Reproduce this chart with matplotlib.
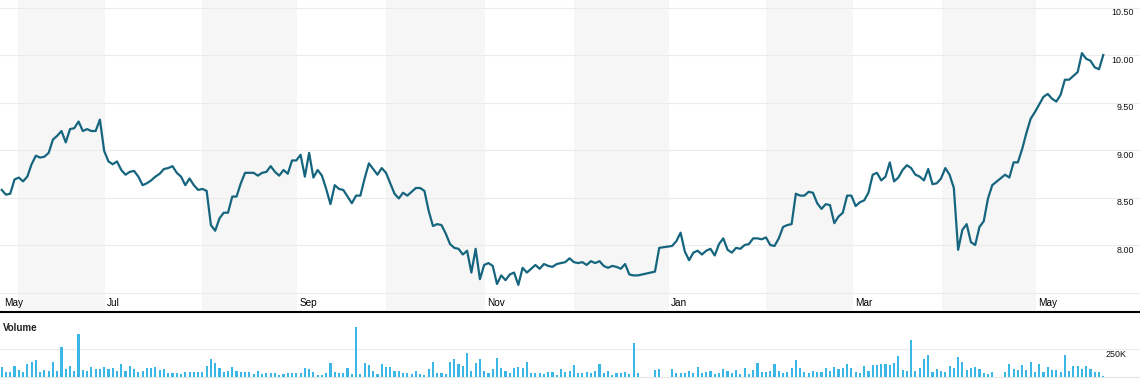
import numpy as np
import matplotlib.pyplot as plt
from matplotlib.lines import Line2D

plt.rcParams['font.family'] = ['Liberation Sans', 'DejaVu Sans']

nan = np.nan

# cours de cloture, un point par jour de bourse (nan = pas de cotation)
prices = [
    8.58, 8.53, 8.54, 8.69, 8.71, 8.67, 8.72, 8.85, 8.94, 8.92,
    8.93, 8.97, 9.11, 9.15, 9.20, 9.08, 9.22, 9.23, 9.30, 9.20,
    9.22, 9.20, 9.20, 9.32, 8.99, 8.88, 8.85, 8.88, 8.79, 8.74,
    8.77, 8.78, 8.72, 8.63, 8.65, 8.68, 8.72, 8.75, 8.80, 8.81,
    8.83, 8.76, 8.72, 8.63, 8.70, 8.63, 8.58, 8.59, 8.57, 8.21,
    8.15, 8.28, 8.34, 8.34, 8.51, 8.51, 8.65, 8.76, 8.76, 8.76,
    8.73, 8.76, 8.77, 8.83, 8.77, 8.73, 8.79, 8.75, 8.89, 8.89,
    8.95, 8.72, 8.97, 8.71, 8.79, 8.73, 8.59, 8.43, 8.63, 8.59,
    8.58, 8.51, 8.44, 8.52, 8.52, 8.70, 8.86, 8.80, 8.74, 8.81,
    8.76, 8.65, 8.54, 8.49, 8.55, 8.52, 8.56, 8.60, 8.60, 8.57,
    8.36, 8.20, 8.22, 8.21, 8.12, 8.01, 7.97, 7.96, 7.90, 7.94,
    7.71, 7.96, 7.64, 7.79, 7.81, 7.78, 7.59, 7.68, 7.63, 7.69,
    7.71, 7.58, 7.76, 7.71, 7.75, 7.79, 7.75, 7.80, 7.78, 7.77,
    7.80, 7.81, 7.82, 7.86, 7.82, 7.81, 7.82, 7.79, 7.83, 7.81,
    7.83, 7.78, 7.76, 7.78, 7.77, 7.75, 7.80, 7.69, 7.68, 7.68,
    nan, nan, nan, 7.72, 7.97, nan, nan, 7.99, 8.04, 8.13,
    7.93, 7.84, 7.92, 7.94, 7.90, 7.94, 7.96, 7.89, 8.01, 8.07,
    7.95, 7.92, 7.97, 7.96, 8.00, 8.01, 8.07, 8.07, 8.06, 8.08,
    8.00, 7.99, 8.07, 8.19, 8.21, 8.22, 8.54, 8.52, 8.52, 8.56,
    8.55, 8.44, 8.38, 8.43, 8.42, 8.23, 8.30, 8.34, 8.52, 8.52,
    8.41, 8.45, 8.47, 8.55, 8.74, 8.76, 8.68, 8.72, 8.87, 8.67,
    8.71, 8.79, 8.84, 8.81, 8.74, 8.72, 8.68, 8.80, 8.64, 8.65,
    8.70, 8.81, 8.74, 8.60, 7.95, 8.16, 8.22, 8.03, 8.00, 8.19,
    8.25, 8.49, 8.63, nan, nan, 8.74, 8.71, 8.87, 8.87, 9.01,
    9.18, 9.33, 9.40, 9.48, 9.56, 9.59, 9.54, 9.51, 9.58, 9.74,
    9.74, 9.78, 9.82, 10.02, 9.96, 9.94, 9.87, 9.85, 10.00,
]

# volume en milliers
volume_k = [
    88, 46, 46, 98, 61, 46, 119, 134, 152, 46,
    61, 52, 134, 52, 271, 70, 98, 55, 390, 61,
    55, 88, 70, 67, 88, 73, 79, 52, 116, 52,
    98, 70, 46, 55, 79, 79, 88, 61, 70, 34,
    34, 34, 24, 46, 46, 46, 46, 46, 98, 162,
    128, 79, 46, 55, 88, 55, 46, 40, 46, 24,
    55, 24, 30, 30, 34, 15, 24, 34, 30, 34,
    34, 79, 70, 40, 15, 15, 34, 128, 40, 34,
    34, 79, 24, 457, 24, 128, 107, 55, 24, 119,
    88, 88, 55, 55, 34, 34, 24, 52, 24, 15,
    70, 134, 34, 34, 24, 134, 162, 116, 98, 217,
    52, 125, 162, 52, 34, 70, 171, 79, 52, 34,
    79, 88, 79, 134, 34, 34, 34, 24, 43, 43,
    15, 70, 43, 52, 107, 34, 34, 43, 34, 52,
    116, 34, 52, 15, 34, 34, 43, 24, 308, 34,
    nan, nan, nan, 61, 70, nan, nan, 70, 34, 34,
    34, 52, 34, 88, 34, 43, 52, 24, 34, 70,
    52, 34, 61, 24, 79, 24, 61, 125, 43, 43,
    52, 116, 52, 34, 43, 79, 152, 79, 43, 34,
    52, 43, 43, 79, 52, 88, 70, 79, 116, 79,
    43, 34, 98, 52, 107, 107, 116, 116, 107, 125,
    189, 61, 52, 335, 52, 79, 162, 198, 43, 70,
    52, 43, 98, 79, 180, 134, 61, 79, 88, 70,
    34, 24, 43, nan, nan, 43, 116, 70, 61, 107,
    61, 134, 43, 116, 43, 88, 61, 61, 43, 198,
    52, 98, 98, 70, 98, 70, 43, 43, 6,
]

# debut de chaque mois (en jours de bourse)
first_month = "May"
month_names = ["Jun", "Jul", "Aug", "Sep", "Oct", "Nov", "Dec", "Jan", "Feb", "Mar", "Apr", "May"]
month_starts = [3.8, 24.2, 46.9, 69.2, 90.0, 113.2, 134.0, 156.3, 179.0, 199.4, 220.2, 242.2]

price_ticks = [7.5, 8.0, 8.5, 9.0, 9.5, 10.0, 10.5]
price_labels = ["", "8.00", "8.50", "9.00", "9.50", "10.00", "10.50"]
volume_tick = 250
volume_label = "250K"

x = np.arange(len(prices))
p = np.array(prices)
v = np.array(volume_k, dtype=float)
xmin, xmax = -0.4, 266.6

fig = plt.figure(figsize=(11.4, 3.92), dpi=100)

# graphique du cours
ax = fig.add_axes([0, 82 / 392, 1, 310 / 392])
ax.set_xlim(xmin, xmax)
ax.set_ylim(7.316, 10.579)
ax.set_axis_off()

for k, start in enumerate(month_starts):
    if k % 2 == 0:  # mois pairs grises
        end = month_starts[k + 1] if k + 1 < len(month_starts) else xmax
        ax.axvspan(start, end, color="#f6f6f6", lw=0, zorder=0)

for t in price_ticks:
    ax.axhline(t, color="#ebebeb", lw=0.8, zorder=1)

ok = ~np.isnan(p)
ax.plot(x[ok], p[ok], color="#16657f", lw=1.6, zorder=3)

for t, lbl in zip(price_ticks, price_labels):
    ax.annotate(lbl, xy=(1, t), xycoords=("axes fraction", "data"),
                xytext=(-4.3, -3.8), textcoords="offset points",
                ha="right", va="center", fontsize=6.4, color="#111111")

ax.annotate(first_month, xy=(0, 0), xycoords="axes fraction", xytext=(2.9, 5),
            textcoords="offset points", ha="left", va="center", fontsize=7.2)
for k, (name, start) in enumerate(zip(month_names, month_starts)):
    if k % 2 == 1:
        ax.annotate(name, xy=(start, 0), xycoords=("data", "axes fraction"),
                    xytext=(1.4, 5), textcoords="offset points",
                    ha="left", va="center", fontsize=7.2)

# ligne de separation
fig.add_artist(Line2D([0, 1], [(392 - 311.8) / 392] * 2, transform=fig.transFigure,
                      color="black", lw=1.5))

# graphique du volume
vax = fig.add_axes([0, 0, 1, 79 / 392])
vax.set_xlim(xmin, xmax)
vax.set_ylim(-139.6, 581.2)
vax.set_axis_off()
vax.axhline(volume_tick, color="#ebebeb", lw=0.8, zorder=1)
vax.axhline(-2, color="#e6e6e6", lw=0.8, zorder=1)
vax.bar(x, np.nan_to_num(v), width=0.5, color="#3ab7e6", zorder=2)

vax.annotate("Volume", xy=(0, 1), xycoords="axes fraction", xytext=(2.2, -11),
             textcoords="offset points", ha="left", va="center",
             fontsize=7, fontweight="bold", color="#222222")
vax.annotate(volume_label, xy=(1, volume_tick), xycoords=("axes fraction", "data"),
             xytext=(-10, -3.6), textcoords="offset points",
             ha="right", va="center", fontsize=6.4, color="#111111")

fig.savefig("out.png", dpi=100)
